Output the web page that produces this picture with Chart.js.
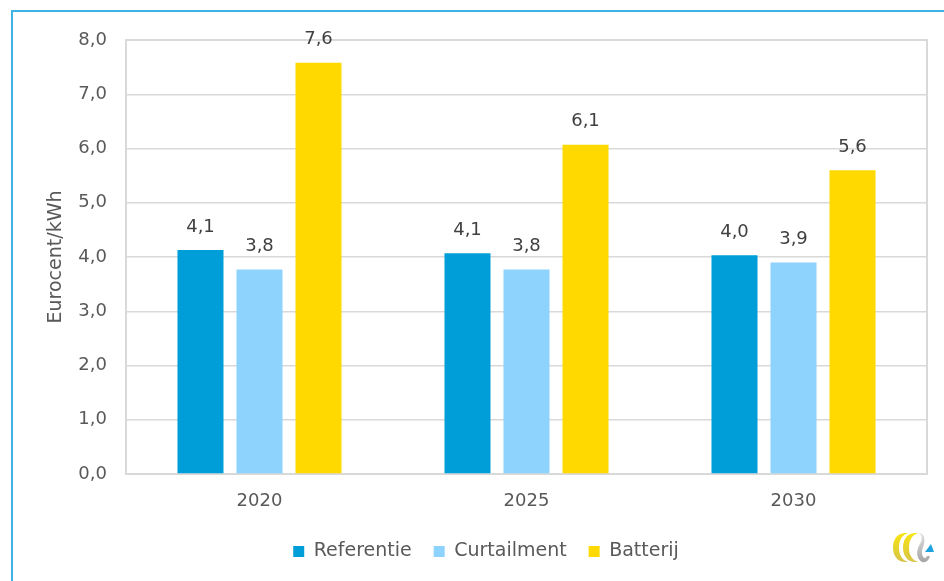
<!DOCTYPE html>
<html>
<head>
<meta charset="utf-8">
<script src="https://cdn.jsdelivr.net/npm/chart.js@4"></script>
<style>
  html, body { margin: 0; padding: 0; background: #fff; width: 944px; height: 581px; overflow: hidden; }
  #frame { position: absolute; left: 11px; top: 10px; width: 1000px; height: 700px; border-left: 2px solid #3db2e5; border-top: 2px solid #3db2e5; box-sizing: border-box; }
  #wrap { position: absolute; left: 0; top: 0; width: 944px; height: 581px; }
  #logo { position: absolute; left: 892px; top: 532px; width: 42px; height: 31px; }
</style>
</head>
<body>
<div id="frame"></div>
<div id="wrap"><canvas id="c" width="944" height="581"></canvas></div>
<svg id="logo" viewBox="0 0 42 31" preserveAspectRatio="none">
  <defs>
    <linearGradient id="gy" x1="0" y1="0" x2="0" y2="1">
      <stop offset="0" stop-color="#f9e40f"/><stop offset="1" stop-color="#d6c44a"/>
    </linearGradient>
    <linearGradient id="gg" x1="0" y1="0" x2="0" y2="1">
      <stop offset="0" stop-color="#e0e0e0"/><stop offset="1" stop-color="#a5a5a5"/>
    </linearGradient>
  </defs>
  <path d="M12 1 C4 2 1 9 1 15.5 C1 23 5 30 13 30 L16 30 C10 28 7 23 7 15.5 C7 8 10 3 16 1 Z" fill="url(#gy)"/>
  <path d="M22 1 C14 2 11 9 11 15.5 C11 23 15 30 23 30 L26 30 C20 28 17 23 17 15.5 C17 8 20 3 26 1 Z" fill="url(#gy)"/>
  <path d="M26 1 C30 2 31 7 28 12 C24 18 24 27 30 30 C34 31 37 28 38 24 L35 24 C34 27 31 27 30 22 C29 17 34 12 32 5 C31 2 29 1 26 1 Z" fill="url(#gg)"/>
  <path d="M33 20 L42 20 L39 12 Z" fill="#1fa3e0"/>
</svg>
<script>
const categories = ['2020', '2025', '2030'];
const seriesNames = ['Referentie', 'Curtailment', 'Batterij'];
const referentie = [4.13, 4.07, 4.03];
const curtailment = [3.77, 3.77, 3.90];
const batterij = [7.58, 6.07, 5.60];
const yTicks = [0, 1, 2, 3, 4, 5, 6, 7, 8];
const yTitle = 'Eurocent/kWh';

const colors = ['#009ed9', '#8dd3fd', '#ffd900'];
const FONT = "'DejaVu Sans', sans-serif";
const fmt = v => v.toFixed(1).replace('.', ',');

const dataLabels = {
  id: 'dataLabels',
  afterDatasetsDraw(chart) {
    const ctx = chart.ctx;
    ctx.save();
    ctx.font = "18px " + FONT;
    ctx.fillStyle = '#404040';
    ctx.textAlign = 'center';
    ctx.textBaseline = 'middle';
    chart.data.datasets.forEach((ds, i) => {
      chart.getDatasetMeta(i).data.forEach((bar, j) => {
        ctx.fillText(fmt(ds.data[j]), bar.x, bar.y - 23);
      });
    });
    ctx.restore();
  }
};

const plotBorder = {
  id: 'plotBorder',
  beforeDatasetsDraw(chart) {
    const a = chart.chartArea, ctx = chart.ctx;
    ctx.save();
    ctx.strokeStyle = '#d9d9d9';
    ctx.lineWidth = 2;
    ctx.strokeRect(a.left, a.top, a.right - a.left, a.bottom - a.top);
    ctx.restore();
  }
};

new Chart(document.getElementById('c'), {
  type: 'bar',
  data: {
    labels: categories,
    datasets: [
      { label: seriesNames[0], data: referentie, backgroundColor: colors[0] },
      { label: seriesNames[1], data: curtailment, backgroundColor: colors[1] },
      { label: seriesNames[2], data: batterij, backgroundColor: colors[2] }
    ]
  },
  options: {
    responsive: false,
    animation: false,
    devicePixelRatio: 1,
    layout: { padding: { left: 45, top: 40, right: 17, bottom: 10 } },
    datasets: { bar: { categoryPercentage: 0.663, barPercentage: 0.78 } },
    plugins: {
      legend: {
        position: 'bottom',
        labels: {
          boxWidth: 11, boxHeight: 11, padding: 22,
          color: '#595959',
          font: { family: FONT, size: 19 }
        }
      },
      tooltip: { enabled: false }
    },
    scales: {
      x: {
        grid: { display: false, drawTicks: false },
        border: { display: true, color: '#d9d9d9', width: 2 },
        ticks: { color: '#595959', font: { family: FONT, size: 18 }, padding: 17 },
        afterFit(s) { s.height = 46; }
      },
      y: {
        min: 0, max: 8,
        afterBuildTicks(s) { s.ticks = yTicks.map(v => ({ value: v })); },
        grid: { color: '#d9d9d9', lineWidth: 1.5, drawTicks: false },
        border: { display: true, color: '#d9d9d9', width: 2 },
        ticks: { color: '#595959', font: { family: FONT, size: 18 }, padding: 19, callback: v => fmt(v) },
        title: { display: true, text: yTitle, color: '#595959', font: { family: FONT, size: 19 }, padding: 0 },
        afterFit(s) { s.width = 81; }
      }
    }
  },
  plugins: [plotBorder, dataLabels]
});
</script>
</body>
</html>
